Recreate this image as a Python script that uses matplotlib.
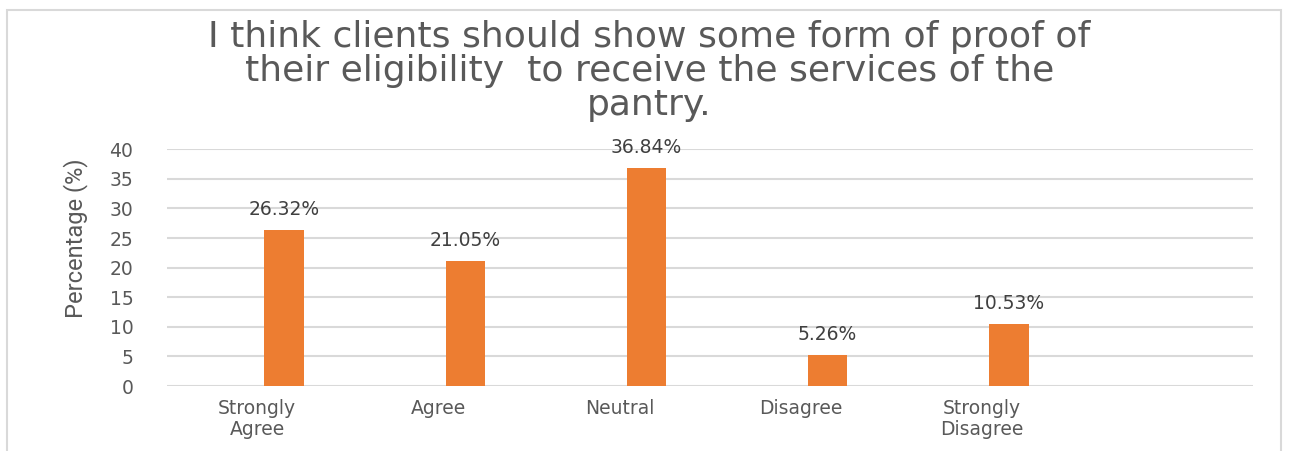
import matplotlib.pyplot as plt
import matplotlib.patches as mpatches
import numpy as np

# datos
categorias = ["Strongly\nAgree", "Agree", "Neutral", "Disagree", "Strongly\nDisagree", ""]
valores = [26.32, 21.05, 36.84, 5.26, 10.53]
etiquetas = ["26.32%", "21.05%", "36.84%", "5.26%", "10.53%"]
yticks = [0, 5, 10, 15, 20, 25, 30, 35, 40]

gris = "#595959"
naranja = "#ED7D31"
fuente = "DejaVu Sans"

fig = plt.figure(figsize=(12.91, 4.51), dpi=100)
ax = fig.add_axes([0.1291, 0.144, 0.8415, 0.525])

# borde del grafico
fig.patches.append(mpatches.Rectangle((0.0055, -0.05), 0.987, 1.028, transform=fig.transFigure,
                                      fill=False, edgecolor="#D9D9D9", linewidth=1.5))

x = np.arange(len(valores))
barras = ax.bar(x + 0.15, valores, width=0.22, color=naranja, zorder=3)

for b, txt in zip(barras, etiquetas):
    ax.annotate(txt, (b.get_x() + b.get_width() / 2, b.get_height()),
                xytext=(0, 8), textcoords="offset points", ha="center", va="bottom",
                fontsize=13.5, color="#404040", family=fuente)

ax.set_xlim(-0.5, len(categorias) - 0.5)
ax.set_ylim(0, 40)
ax.set_xticks(np.arange(len(categorias)))
ax.set_xticklabels(categorias, fontsize=13.5, color=gris, family=fuente, linespacing=1.15)
ax.set_yticks(yticks)
ax.set_yticklabels([str(v) for v in yticks], fontsize=13.5, color=gris, family=fuente)
ax.tick_params(axis="both", length=0)
ax.tick_params(axis="y", pad=24)
ax.tick_params(axis="x", pad=9)

ax.yaxis.grid(True, color="#D9D9D9", linewidth=1.5, zorder=0)
for s in ax.spines.values():
    s.set_visible(False)

ax.set_ylabel("Percentage (%)", fontsize=17, color=gris, family="Roboto")
ax.yaxis.set_label_coords(-0.072, 0.625)

fig.text(0.503, 0.955, "I think clients should show some form of proof of\n"
         "their eligibility  to receive the services of the\npantry.",
         ha="center", va="top", fontsize=26, color=gris, family=fuente, linespacing=1.0)

fig.savefig("out.png", dpi=100)
